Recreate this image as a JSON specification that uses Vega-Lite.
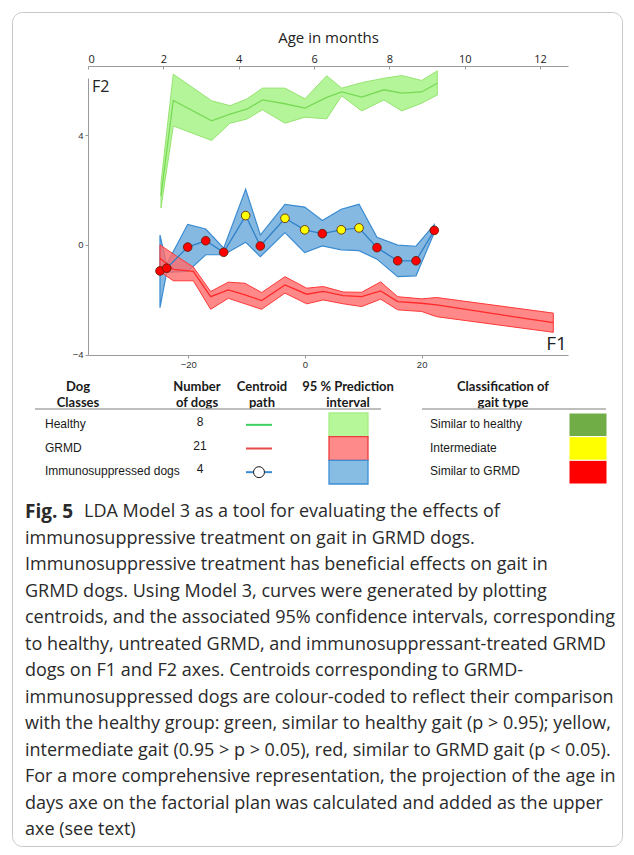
{
  "$schema": "https://vega.github.io/schema/vega-lite/v6.json",
  "width": 610,
  "height": 834,
  "autosize": {"type": "none"},
  "padding": {"left": 12, "top": 12, "right": 12, "bottom": 9},
  "background": "white",
  "config": {
    "view": {"stroke": "#c8c8c8", "strokeWidth": 1, "cornerRadius": 10},
    "axis": {"grid": false}
  },
  "datasets": {
    "centroids": [
      {"grp": "Healthy", "F1": -24.69, "F2": 1.79, "lo": 1.35, "hi": 2.26},
      {"grp": "Healthy", "F1": -22.58, "F2": 5.27, "lo": 4.34, "hi": 6.23},
      {"grp": "Healthy", "F1": -16.0, "F2": 4.53, "lo": 3.81, "hi": 5.26},
      {"grp": "Healthy", "F1": -12.86, "F2": 4.77, "lo": 4.44, "hi": 5.08},
      {"grp": "Healthy", "F1": -9.99, "F2": 4.95, "lo": 4.59, "hi": 5.32},
      {"grp": "Healthy", "F1": -7.29, "F2": 5.29, "lo": 4.93, "hi": 5.72},
      {"grp": "Healthy", "F1": -3.43, "F2": 5.15, "lo": 4.44, "hi": 5.72},
      {"grp": "Healthy", "F1": 0.0, "F2": 4.99, "lo": 4.66, "hi": 5.33},
      {"grp": "Healthy", "F1": 3.72, "F2": 5.38, "lo": 4.6, "hi": 6.17},
      {"grp": "Healthy", "F1": 6.29, "F2": 5.58, "lo": 5.44, "hi": 5.72},
      {"grp": "Healthy", "F1": 9.72, "F2": 5.39, "lo": 4.89, "hi": 5.92},
      {"grp": "Healthy", "F1": 13.54, "F2": 5.66, "lo": 5.29, "hi": 6.08},
      {"grp": "Healthy", "F1": 16.58, "F2": 5.54, "lo": 4.89, "hi": 6.18},
      {"grp": "Healthy", "F1": 20.0, "F2": 5.58, "lo": 5.17, "hi": 6.0},
      {"grp": "Healthy", "F1": 22.68, "F2": 5.9, "lo": 5.47, "hi": 6.35},
      {"grp": "GRMD", "F1": -24.86, "F2": -0.49, "lo": -0.97, "hi": 0.0},
      {"grp": "GRMD", "F1": -22.58, "F2": -0.89, "lo": -1.31, "hi": -0.33},
      {"grp": "GRMD", "F1": -19.14, "F2": -0.97, "lo": -1.31, "hi": -0.81},
      {"grp": "GRMD", "F1": -16.17, "F2": -1.89, "lo": -2.35, "hi": -1.7},
      {"grp": "GRMD", "F1": -13.14, "F2": -1.64, "lo": -1.95, "hi": -1.36},
      {"grp": "GRMD", "F1": -10.29, "F2": -1.82, "lo": -2.15, "hi": -1.4},
      {"grp": "GRMD", "F1": -7.43, "F2": -2.03, "lo": -2.35, "hi": -1.74},
      {"grp": "GRMD", "F1": -3.43, "F2": -1.46, "lo": -1.76, "hi": -1.16},
      {"grp": "GRMD", "F1": 0.29, "F2": -1.8, "lo": -2.15, "hi": -1.58},
      {"grp": "GRMD", "F1": 3.14, "F2": -1.7, "lo": -2.01, "hi": -1.52},
      {"grp": "GRMD", "F1": 6.57, "F2": -1.85, "lo": -2.15, "hi": -1.72},
      {"grp": "GRMD", "F1": 9.72, "F2": -1.89, "lo": -2.25, "hi": -1.73},
      {"grp": "GRMD", "F1": 12.97, "F2": -1.68, "lo": -1.98, "hi": -1.35},
      {"grp": "GRMD", "F1": 15.89, "F2": -2.07, "lo": -2.37, "hi": -1.89},
      {"grp": "GRMD", "F1": 20.0, "F2": -2.13, "lo": -2.43, "hi": -1.97},
      {"grp": "GRMD", "F1": 22.57, "F2": -2.19, "lo": -2.62, "hi": -1.92},
      {"grp": "GRMD", "F1": 42.57, "F2": -2.84, "lo": -3.19, "hi": -2.49},
      {"grp": "Immuno", "F1": -24.86, "F2": -0.95, "lo": -2.29, "hi": 0.36, "gait": "Similar to GRMD"},
      {"grp": "Immuno", "F1": -23.71, "F2": -0.85, "lo": -1.0, "hi": -0.7, "gait": "Similar to GRMD"},
      {"grp": "Immuno", "F1": -20.11, "F2": -0.08, "lo": -0.97, "hi": 0.75, "gait": "Similar to GRMD"},
      {"grp": "Immuno", "F1": -17.02, "F2": 0.15, "lo": -0.36, "hi": 0.58, "gait": "Similar to GRMD"},
      {"grp": "Immuno", "F1": -13.94, "F2": -0.27, "lo": -0.36, "hi": -0.12, "gait": "Similar to GRMD"},
      {"grp": "Immuno", "F1": -10.17, "F2": 1.07, "lo": 0.1, "hi": 2.03, "gait": "Intermediate"},
      {"grp": "Immuno", "F1": -7.66, "F2": -0.04, "lo": -0.43, "hi": 0.36, "gait": "Similar to GRMD"},
      {"grp": "Immuno", "F1": -3.43, "F2": 0.97, "lo": 0.45, "hi": 1.48, "gait": "Intermediate"},
      {"grp": "Immuno", "F1": -0.05, "F2": 0.55, "lo": -0.28, "hi": 1.38, "gait": "Intermediate"},
      {"grp": "Immuno", "F1": 2.97, "F2": 0.41, "lo": -0.04, "hi": 0.89, "gait": "Similar to GRMD"},
      {"grp": "Immuno", "F1": 6.22, "F2": 0.55, "lo": -0.18, "hi": 1.3, "gait": "Intermediate"},
      {"grp": "Immuno", "F1": 9.26, "F2": 0.62, "lo": -0.21, "hi": 1.48, "gait": "Intermediate"},
      {"grp": "Immuno", "F1": 12.34, "F2": -0.1, "lo": -0.52, "hi": 0.28, "gait": "Similar to GRMD"},
      {"grp": "Immuno", "F1": 15.89, "F2": -0.58, "lo": -1.16, "hi": -0.01, "gait": "Similar to GRMD"},
      {"grp": "Immuno", "F1": 19.03, "F2": -0.58, "lo": -1.13, "hi": -0.05, "gait": "Similar to GRMD"},
      {"grp": "Immuno", "F1": 22.17, "F2": 0.53, "lo": 0.45, "hi": 0.74, "gait": "Similar to GRMD"}
    ],
    "axisNames": [{"name": "F1"}, {"name": "F2"}],
    "ageTicks": [{"months": 0}, {"months": 12}],
    "legendRows": [
      {"cls": "Healthy", "n": 8, "gait": "Similar to healthy"},
      {"cls": "GRMD", "n": 21, "gait": "Intermediate"},
      {"cls": "Immunosuppressed  dogs", "n": 4, "gait": "Similar to GRMD"}
    ],
    "caption": [
      {"line": 1, "text": "LDA Model 3 as a tool for evaluating the effects of"},
      {"line": 2, "text": "immunosuppressive treatment on gait in GRMD dogs."},
      {"line": 3, "text": "Immunosuppressive treatment has beneficial effects on gait in"},
      {"line": 4, "text": "GRMD dogs. Using Model 3, curves were generated by plotting"},
      {"line": 5, "text": "centroids, and the associated 95% confidence intervals, corresponding"},
      {"line": 6, "text": "to healthy, untreated GRMD, and immunosuppressant-treated GRMD"},
      {"line": 7, "text": "dogs on F1 and F2 axes. Centroids corresponding to GRMD-"},
      {"line": 8, "text": "immunosuppressed dogs are colour-coded to reflect their comparison"},
      {"line": 9, "text": "with the healthy group: green, similar to healthy gait (p > 0.95); yellow,"},
      {"line": 10, "text": "intermediate gait (0.95 > p > 0.05), red, similar to GRMD gait (p < 0.05)."},
      {"line": 11, "text": "For a more comprehensive representation, the projection of the age in"},
      {"line": 12, "text": "days axe on the factorial plan was calculated and added as the upper"},
      {"line": 13, "text": "axe (see text)"}
    ]
  },
  "layer": [
    {
      "data": {"name": "centroids"},
      "layer": [
        {
          "transform": [{"filter": "datum.grp === 'Healthy'"}],
          "mark": {"type": "area", "fill": "#b5f599", "stroke": "#94e470", "strokeWidth": 1},
          "encoding": {
            "x": {"field": "F1", "type": "quantitative", "title": null,
              "scale": {"domain": [-37.2, 45.09], "range": [76, 556], "nice": false, "zero": false},
              "axis": {"orient": "bottom", "offset": -491, "values": [-20, 0, 20], "format": "d", "title": null, "grid": false,
                "domainColor": "#9a9a9a", "tickColor": "#9a9a9a", "tickSize": 3, "labelPadding": 1,
                "labelFont": "Liberation Sans", "labelFontSize": 9.5, "labelColor": "#333"}},
            "y": {"field": "lo", "type": "quantitative", "title": null,
              "scale": {"domain": [-4, 6.09], "range": [342.5, 66], "nice": false, "zero": false},
              "axis": {"orient": "left", "offset": -76, "values": [-4, 0, 4], "format": "d", "title": null, "grid": false,
                "domainColor": "#9a9a9a", "tickColor": "#9a9a9a", "tickSize": 3, "labelPadding": 2,
                "labelFont": "Liberation Sans", "labelFontSize": 9.5, "labelColor": "#333"}},
            "y2": {"field": "hi"}
          }
        },
        {
          "transform": [{"filter": "datum.grp === 'Healthy'"}],
          "mark": {"type": "line", "stroke": "#78d956", "strokeWidth": 1.3},
          "encoding": {
            "x": {"field": "F1", "type": "quantitative", "title": null},
            "y": {"field": "F2", "type": "quantitative", "title": null}
          }
        },
        {
          "transform": [{"filter": "datum.grp === 'Immuno'"}],
          "mark": {"type": "area", "fill": "#86b9e2", "stroke": "#3a8bd2", "strokeWidth": 1.2},
          "encoding": {
            "x": {"field": "F1", "type": "quantitative", "title": null},
            "y": {"field": "lo", "type": "quantitative", "title": null},
            "y2": {"field": "hi"}
          }
        },
        {
          "transform": [{"filter": "datum.grp === 'GRMD'"}],
          "mark": {"type": "area", "fill": "#ff6a6a", "fillOpacity": 0.8, "stroke": "#ff3838", "strokeWidth": 1},
          "encoding": {
            "x": {"field": "F1", "type": "quantitative", "title": null},
            "y": {"field": "lo", "type": "quantitative", "title": null},
            "y2": {"field": "hi"}
          }
        },
        {
          "transform": [{"filter": "datum.grp === 'GRMD'"}],
          "mark": {"type": "line", "stroke": "#ff2a2a", "strokeWidth": 1.3},
          "encoding": {
            "x": {"field": "F1", "type": "quantitative", "title": null},
            "y": {"field": "F2", "type": "quantitative", "title": null}
          }
        },
        {
          "transform": [{"filter": "datum.grp === 'Immuno'"}],
          "mark": {"type": "line", "stroke": "#2f80c8", "strokeWidth": 1.3},
          "encoding": {
            "x": {"field": "F1", "type": "quantitative", "title": null},
            "y": {"field": "F2", "type": "quantitative", "title": null}
          }
        },
        {
          "transform": [{"filter": "datum.grp === 'Immuno'"}],
          "mark": {"type": "point", "shape": "circle", "filled": true, "opacity": 1, "size": 75, "stroke": "#5a1a00", "strokeWidth": 0.8},
          "encoding": {
            "x": {"field": "F1", "type": "quantitative", "title": null},
            "y": {"field": "F2", "type": "quantitative", "title": null},
            "color": {"field": "gait", "type": "nominal", "legend": null,
              "scale": {"domain": ["Similar to healthy", "Intermediate", "Similar to GRMD"], "range": ["#70ad47", "#ffff00", "#ff0000"]}}
          }
        },
        {
          "data": {"name": "axisNames"},
          "transform": [{"filter": "datum.name === 'F2'"}],
          "mark": {"type": "text", "align": "left", "baseline": "middle", "font": "Open Sans", "fontWeight": "normal", "fontSize": 16, "color": "#222"},
          "encoding": {
            "x": {"datum": -36.5, "type": "quantitative"},
            "y": {"datum": 5.76, "type": "quantitative"},
            "text": {"field": "name"}
          }
        },
        {
          "data": {"name": "axisNames"},
          "transform": [{"filter": "datum.name === 'F1'"}],
          "mark": {"type": "text", "align": "right", "baseline": "middle", "font": "Open Sans", "fontWeight": "normal", "fontSize": 19, "color": "#222"},
          "encoding": {
            "x": {"datum": 44.9, "type": "quantitative"},
            "y": {"datum": -3.61, "type": "quantitative"},
            "text": {"field": "name"}
          }
        }
      ]
    },
    {
      "data": {"name": "ageTicks"},
      "mark": {"type": "point", "opacity": 0},
      "encoding": {
        "x": {"field": "months", "type": "quantitative",
          "scale": {"domain": [0, 12.74], "range": [76, 556], "nice": false, "zero": false},
          "axis": {"orient": "top", "offset": -54, "values": [0, 2, 4, 6, 8, 10, 12], "format": "d", "title": "Age in months",
            "domainColor": "#9a9a9a", "tickColor": "#9a9a9a", "tickSize": -3, "labelPadding": 5,
            "labelFont": "Open Sans", "labelFontSize": 11, "labelColor": "#222",
            "titleFont": "Open Sans", "titleFontSize": 15, "titleFontWeight": "normal", "titleColor": "#222", "titlePadding": 8}}
      }
    },
    {
      "data": {"name": "legendRows"},
      "layer": [
        {
          "mark": {"type": "text", "align": "left", "baseline": "middle", "font": "Liberation Sans", "fontSize": 12, "color": "#1a1a1a", "dy": -1},
          "encoding": {
            "x": {"datum": 33, "type": "quantitative", "scale": {"domain": [0, 610], "range": [0, 610], "nice": false, "zero": false}, "axis": null},
            "y": {"field": "cls", "type": "nominal", "bandPosition": 0.5, "axis": null,
              "scale": {"type": "band", "domain": ["Healthy", "GRMD", "Immunosuppressed  dogs"], "range": [401, 472], "paddingInner": 0, "paddingOuter": 0}},
            "text": {"field": "cls"}
          }
        },
        {
          "mark": {"type": "text", "align": "center", "baseline": "middle", "font": "Liberation Sans", "fontSize": 12, "color": "#1a1a1a", "dy": -3},
          "encoding": {
            "x": {"datum": 188, "type": "quantitative"},
            "y": {"field": "cls", "type": "nominal", "bandPosition": 0.5},
            "text": {"field": "n"}
          }
        },
        {
          "mark": {"type": "rule", "strokeWidth": 2, "dy": -1},
          "encoding": {
            "x": {"datum": 234, "type": "quantitative"},
            "x2": {"datum": 260},
            "y": {"field": "cls", "type": "nominal", "bandPosition": 0.5},
            "color": {"field": "cls", "type": "nominal", "legend": null,
              "scale": {"domain": ["Healthy", "GRMD", "Immunosuppressed  dogs", "Similar to healthy", "Intermediate", "Similar to GRMD"],
                "range": ["#3fcf5f", "#e64a4a", "#3a8ad0", "#70ad47", "#ffff00", "#ff0000"]}}
          }
        },
        {
          "transform": [{"filter": "datum.cls === 'Immunosuppressed  dogs'"}],
          "mark": {"type": "point", "shape": "circle", "filled": true, "fill": "white", "opacity": 1, "stroke": "#1a1a1a", "strokeWidth": 1, "size": 120},
          "encoding": {
            "x": {"datum": 247, "type": "quantitative"},
            "y": {"field": "cls", "type": "nominal", "bandPosition": 0.5}
          }
        },
        {
          "mark": {"type": "rect", "strokeWidth": 1.3},
          "encoding": {
            "x": {"datum": 317, "type": "quantitative"},
            "x2": {"datum": 356},
            "y": {"field": "cls", "type": "nominal"},
            "fill": {"field": "cls", "type": "nominal", "legend": null,
              "scale": {"domain": ["Healthy", "GRMD", "Immunosuppressed  dogs"], "range": ["#b5f799", "#ff8a8a", "#87bde3"]}},
            "stroke": {"field": "cls", "type": "nominal", "legend": null,
              "scale": {"domain": ["Healthy", "GRMD", "Immunosuppressed  dogs"], "range": ["#a6ee86", "#ee3c3c", "#3d8fd6"]}}
          }
        },
        {
          "mark": {"type": "text", "align": "left", "baseline": "middle", "font": "Liberation Sans", "fontSize": 12, "color": "#1a1a1a", "dy": -1},
          "encoding": {
            "x": {"datum": 418, "type": "quantitative"},
            "y": {"field": "cls", "type": "nominal", "bandPosition": 0.5},
            "text": {"field": "gait"}
          }
        },
        {
          "mark": {"type": "rect", "stroke": "white", "strokeWidth": 1},
          "encoding": {
            "x": {"datum": 557, "type": "quantitative"},
            "x2": {"datum": 595},
            "y": {"field": "cls", "type": "nominal"},
            "color": {"field": "gait", "type": "nominal", "legend": null}
          }
        }
      ]
    },
    {
      "data": {"values": [{}]},
      "layer": [
        {
          "mark": {"type": "text", "text": ["Dog", "Classes"], "align": "center", "baseline": "middle", "font": "Lato", "fontWeight": "bold", "fontSize": 13, "lineHeight": 16, "color": "#1a1a1a"},
          "encoding": {
            "x": {"datum": 66, "type": "quantitative", "scale": {"domain": [0, 610], "range": [0, 610], "nice": false, "zero": false}, "axis": null},
            "y": {"datum": 375, "type": "quantitative", "scale": {"domain": [0, 834], "range": [0, 834], "nice": false, "zero": false}, "axis": null}
          }
        },
        {
          "mark": {"type": "text", "text": ["Number", "of dogs"], "align": "center", "baseline": "middle", "font": "Lato", "fontWeight": "bold", "fontSize": 13, "lineHeight": 16, "color": "#1a1a1a"},
          "encoding": {"x": {"datum": 185, "type": "quantitative"}, "y": {"datum": 375, "type": "quantitative"}}
        },
        {
          "mark": {"type": "text", "text": ["Centroid", "path"], "align": "center", "baseline": "middle", "font": "Lato", "fontWeight": "bold", "fontSize": 13, "lineHeight": 16, "color": "#1a1a1a"},
          "encoding": {"x": {"datum": 250, "type": "quantitative"}, "y": {"datum": 375, "type": "quantitative"}}
        },
        {
          "mark": {"type": "text", "text": ["95 % Prediction", "interval"], "align": "center", "baseline": "middle", "font": "Lato", "fontWeight": "bold", "fontSize": 13, "lineHeight": 16, "color": "#1a1a1a"},
          "encoding": {"x": {"datum": 336, "type": "quantitative"}, "y": {"datum": 375, "type": "quantitative"}}
        },
        {
          "mark": {"type": "text", "text": ["Classification of", "gait type"], "align": "center", "baseline": "middle", "font": "Lato", "fontWeight": "bold", "fontSize": 13, "lineHeight": 16, "color": "#1a1a1a"},
          "encoding": {"x": {"datum": 491, "type": "quantitative"}, "y": {"datum": 375, "type": "quantitative"}}
        },
        {
          "mark": {"type": "rule", "stroke": "#a8a8a8", "strokeWidth": 1.5},
          "encoding": {"x": {"datum": 23, "type": "quantitative"}, "x2": {"datum": 369}, "y": {"datum": 397, "type": "quantitative"}}
        },
        {
          "mark": {"type": "rule", "stroke": "#a8a8a8", "strokeWidth": 1.5},
          "encoding": {"x": {"datum": 410, "type": "quantitative"}, "x2": {"datum": 594}, "y": {"datum": 397, "type": "quantitative"}}
        }
      ]
    },
    {
      "data": {"name": "caption"},
      "layer": [
        {
          "transform": [{"filter": "datum.line > 1"}],
          "mark": {"type": "text", "align": "left", "baseline": "middle", "font": "Open Sans", "fontSize": 18, "color": "#2a2a2a"},
          "encoding": {
            "x": {"datum": 13, "type": "quantitative", "scale": {"domain": [0, 610], "range": [0, 610], "nice": false, "zero": false}, "axis": null},
            "y": {"field": "line", "type": "quantitative", "scale": {"domain": [1, 13], "range": [500, 818], "nice": false, "zero": false}, "axis": null},
            "text": {"field": "text"}
          }
        },
        {
          "transform": [{"filter": "datum.line === 1"}],
          "mark": {"type": "text", "align": "left", "baseline": "middle", "font": "Open Sans", "fontSize": 18, "color": "#2a2a2a", "dx": 59},
          "encoding": {
            "x": {"datum": 13, "type": "quantitative"},
            "y": {"field": "line", "type": "quantitative"},
            "text": {"field": "text"}
          }
        },
        {
          "transform": [{"filter": "datum.line === 1"}],
          "mark": {"type": "text", "text": "Fig. 5", "align": "left", "baseline": "middle", "font": "Open Sans", "fontWeight": "bold", "fontSize": 19, "color": "#2a2a2a"},
          "encoding": {
            "x": {"datum": 13, "type": "quantitative"},
            "y": {"field": "line", "type": "quantitative"}
          }
        }
      ]
    }
  ],
  "resolve": {
    "scale": {"x": "independent", "y": "independent", "color": "independent", "fill": "independent", "stroke": "independent"},
    "axis": {"x": "independent", "y": "independent"}
  }
}
